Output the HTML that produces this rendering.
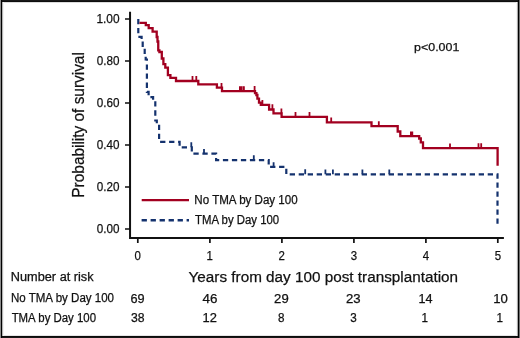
<!DOCTYPE html>
<html><head><meta charset="utf-8">
<style>
html,body{margin:0;padding:0;background:#fff;}
body{width:520px;height:338px;overflow:hidden;position:relative;}
svg{position:absolute;left:0;top:0;display:block;will-change:transform;}
text{font-family:"Liberation Sans",sans-serif;fill:#111;stroke:#111;stroke-width:0.25px;}
</style></head><body>
<svg width="520" height="338" viewBox="0 0 520 338">
<rect x="0" y="0" width="520" height="338" fill="#fff"/>
<g shape-rendering="crispEdges">
<rect x="0" y="2" width="520" height="1" fill="#dcdcdc"/>
<rect x="0" y="335" width="520" height="1" fill="#e6e6e6"/>
<rect x="2" y="0" width="1" height="338" fill="#b4b4b4"/>
<rect x="3" y="0" width="1" height="338" fill="#f2f2f2"/>
<rect x="517" y="0" width="1" height="338" fill="#a8a8a8"/>
<rect x="516" y="0" width="1" height="338" fill="#f4f4f4"/>
<rect x="0" y="0" width="520" height="1" fill="#181818"/>
<rect x="0" y="1" width="520" height="1" fill="#0e0e0e"/>
<rect x="0" y="336" width="520" height="1" fill="#0c0c0c"/>
<rect x="0" y="337" width="520" height="1" fill="#181818"/>
<rect x="0" y="0" width="1" height="338" fill="#8c8c8c"/>
<rect x="1" y="0" width="1" height="338" fill="#000"/>
<rect x="518" y="0" width="1" height="338" fill="#000"/>
<rect x="519" y="0" width="1" height="338" fill="#6e6e6e"/>
</g>
<g stroke="#111" stroke-width="2" fill="none">
<path d="M130.05,11.8 V239 M129.05,238 H503.9"/>
</g>
<g stroke="#111" stroke-width="1.7" fill="none">
<path d="M125,19 H130 M125,61 H130 M125,103 H130 M125,145 H130 M125,187 H130 M125,229 H130"/>
<path d="M137.8,238 V243.1 M209.9,238 V243.1 M281.9,238 V243.1 M353.9,238 V243.1 M425.9,238 V243.1 M497.8,238 V243.1"/>
</g>
<text x="96.39" y="23.30" font-size="13" textLength="23.17" lengthAdjust="spacingAndGlyphs">1.00</text>
<text x="96.84" y="65.30" font-size="13" textLength="22.71" lengthAdjust="spacingAndGlyphs">0.80</text>
<text x="96.84" y="107.30" font-size="13" textLength="22.71" lengthAdjust="spacingAndGlyphs">0.60</text>
<text x="96.84" y="149.30" font-size="13" textLength="22.71" lengthAdjust="spacingAndGlyphs">0.40</text>
<text x="96.84" y="191.30" font-size="13" textLength="22.71" lengthAdjust="spacingAndGlyphs">0.20</text>
<text x="96.84" y="233.30" font-size="13" textLength="22.71" lengthAdjust="spacingAndGlyphs">0.00</text>
<text x="134.62" y="259.50" font-size="13" textLength="6.36" lengthAdjust="spacingAndGlyphs">0</text>
<text x="206.46" y="259.50" font-size="13" textLength="6.36" lengthAdjust="spacingAndGlyphs">1</text>
<text x="278.62" y="259.50" font-size="13" textLength="6.36" lengthAdjust="spacingAndGlyphs">2</text>
<text x="350.65" y="259.50" font-size="13" textLength="6.36" lengthAdjust="spacingAndGlyphs">3</text>
<text x="422.66" y="259.50" font-size="13" textLength="6.36" lengthAdjust="spacingAndGlyphs">4</text>
<text x="494.63" y="259.50" font-size="13" textLength="6.36" lengthAdjust="spacingAndGlyphs">5</text>
<text x="188.57" y="281.80" font-size="15.5" textLength="269.52" lengthAdjust="spacingAndGlyphs">Years from day 100 post transplantation</text>
<text transform="translate(83.80,196.40) rotate(-90)" x="-1.26" y="0" font-size="16" textLength="145.49" lengthAdjust="spacingAndGlyphs">Probability of survival</text>
<text x="414.10" y="51.10" font-size="11.3" textLength="45.21" lengthAdjust="spacingAndGlyphs">p&lt;0.001</text>
<text x="194.36" y="204.20" font-size="12" textLength="103.29" lengthAdjust="spacingAndGlyphs">No TMA by Day 100</text>
<text x="195.05" y="223.90" font-size="12" textLength="84.09" lengthAdjust="spacingAndGlyphs">TMA by Day 100</text>
<text x="10.86" y="281.30" font-size="12" textLength="82.73" lengthAdjust="spacingAndGlyphs">Number at risk</text>
<text x="10.96" y="302.40" font-size="12" textLength="103.09" lengthAdjust="spacingAndGlyphs">No TMA by Day 100</text>
<text x="11.65" y="322.40" font-size="12" textLength="84.40" lengthAdjust="spacingAndGlyphs">TMA by Day 100</text>
<text x="130.45" y="302.60" font-size="12.3" textLength="14.15" lengthAdjust="spacingAndGlyphs">69</text>
<text x="202.59" y="302.60" font-size="12.3" textLength="14.90" lengthAdjust="spacingAndGlyphs">46</text>
<text x="274.14" y="302.60" font-size="12.3" textLength="14.58" lengthAdjust="spacingAndGlyphs">29</text>
<text x="346.04" y="302.60" font-size="12.3" textLength="14.64" lengthAdjust="spacingAndGlyphs">23</text>
<text x="418.54" y="302.60" font-size="12.3" textLength="14.03" lengthAdjust="spacingAndGlyphs">14</text>
<text x="493.20" y="302.60" font-size="12.3" textLength="14.61" lengthAdjust="spacingAndGlyphs">10</text>
<text x="130.93" y="322.40" font-size="12.3" textLength="13.60" lengthAdjust="spacingAndGlyphs">38</text>
<text x="202.62" y="322.40" font-size="12.3" textLength="14.33" lengthAdjust="spacingAndGlyphs">12</text>
<text x="277.95" y="322.40" font-size="12.3" textLength="6.50" lengthAdjust="spacingAndGlyphs">8</text>
<text x="350.18" y="322.40" font-size="12.3" textLength="6.50" lengthAdjust="spacingAndGlyphs">3</text>
<text x="421.59" y="322.40" font-size="12.3" textLength="6.50" lengthAdjust="spacingAndGlyphs">1</text>
<text x="496.49" y="322.40" font-size="12.3" textLength="6.50" lengthAdjust="spacingAndGlyphs">1</text>
<path d="M141.7,200.2 H189" stroke="#a20020" stroke-width="2.3" fill="none"/>
<path d="M141.6,220.25 H189" stroke="#14326e" stroke-width="2.3" fill="none" stroke-dasharray="5.3,3.7"/>
<path d="M138.3,19 V36.9 H141.6 V40.5 H142.7 V47.8 H144.7 V55.5 H145.7 V59.5 H146.9 V91.8 H148.6 V97.2 H153.1 V102.4 H155.3 V120.5 H156.8 V124.5 H159.1 V141.9" stroke="#14326e" stroke-width="2.2" fill="none" stroke-dasharray="5.3,3.74" stroke-dashoffset="0.12"/>
<path d="M159.1,141.9 H179.6 V147.3 H191.8 V153.6 H216.1 V160.1 H268.7 V166.9 H286.3 V174.3 H497.5 V227.5" stroke="#14326e" stroke-width="2.2" fill="none" stroke-dasharray="5.3,3.7" stroke-dashoffset="8.0"/>
<g stroke="#14326e" stroke-width="1.8">
<path d="M191.3,147.3 V142.2 M204,153.6 V149 M253.8,160.1 V155.2 M273.6,166.9 V162.3 M305.2,174.3 V169.3 M325.4,174.3 V169.4 M332.9,174.3 V169.4 M362.4,174.3 V169.4 M389.3,174.3 V169.4"/>
</g>
<path d="M139.5,22.9 H145.8 V25.2 H148.7 V28.1 H152.6 V31.6 H156.7 V37 H157.5 V41.5 H158.25 V50.4 H159.4 V52 H161.8 V58.5 H163.4 V64.2 H165.3 V67.6 H167.9 V75.2 H170.4 V77.9 H176 V81 H198.3 V84.4 H216.9 V87.6 H222 V91.1 H255 V93.1 H256.4 V95 H257.4 V98.6 H259 V102.6 H260.8 V104.8 H269.1 V109.5 H273.5 V113.4 H281.6 V116.8 H326.9 V122.4 H371.5 V126.2 H397.7 V131.5 H400.3 V136.2 H419.2 V138.5 H420.8 V142.3 H423 V148.2 H497.6 V165.8" stroke="#a20020" stroke-width="2.3" fill="none"/>
<path d="M242.6,91.1 V86.2" stroke="#a20020" stroke-width="1.6" stroke-opacity="0.6"/>
<g stroke="#a20020" stroke-width="1.8">
<path d="M192.5,81 V76.1 M196.3,81 V76.1 M221.5,87.6 V82.9 M239.9,91.1 V86.2 M241.3,91.1 V86.2 M243.9,91.1 V86.2 M254.6,91.1 V86 M262.4,104.8 V100 M272.4,109.5 V104.3 M281.4,113.4 V108.4 M295.5,116.8 V112 M309.5,116.8 V112 M331.2,122.4 V117.4 M378.8,126.2 V121.2 M410.9,136.2 V131.5 M412.3,136.2 V131.5 M450,148.2 V143.5 M478.5,148.2 V143.3 M481.2,148.2 V143.3"/>
</g>
</svg>
</body></html>
